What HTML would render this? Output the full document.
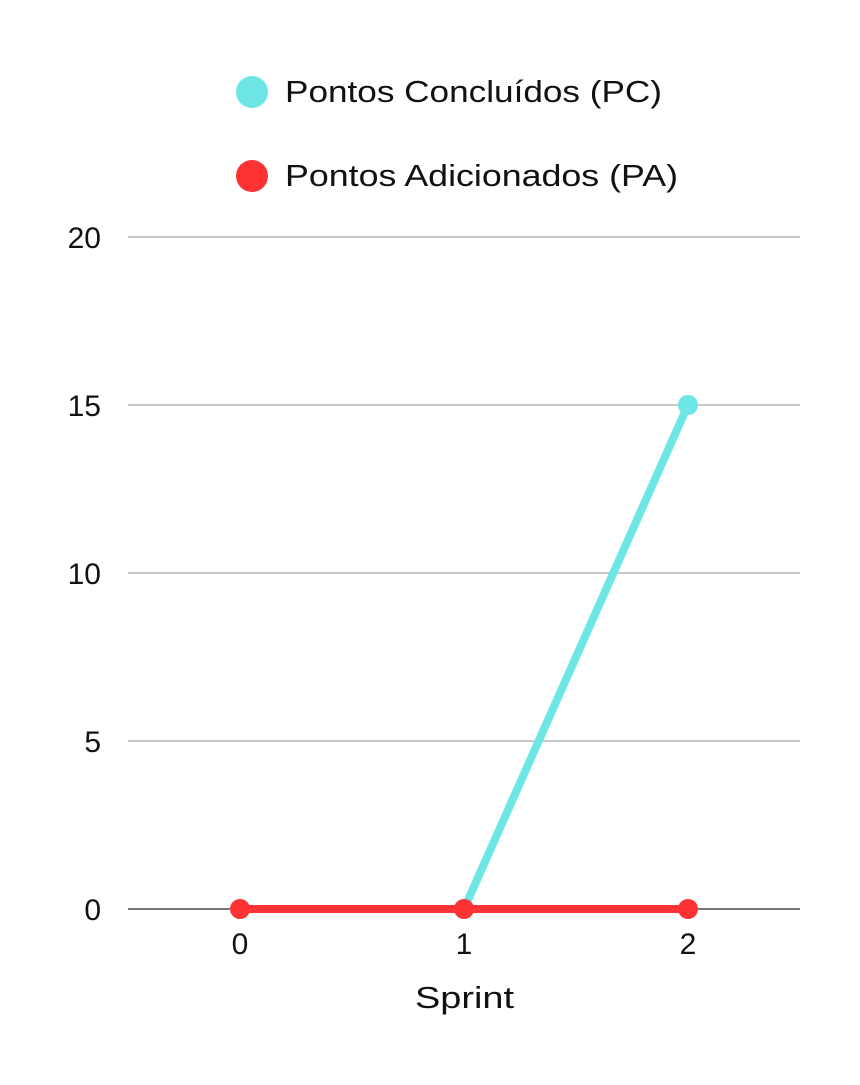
<!DOCTYPE html>
<html><head><meta charset="utf-8"><style>
body{margin:0;background:#fff;width:860px;height:1080px;overflow:hidden}
svg{font-family:"Liberation Sans",sans-serif}
</style></head><body>
<svg id="chart" width="860" height="1080">
<g id="legend">
<g><circle cx="252" cy="92" r="16" fill="#6ee6e6"/><text x="285" y="102" font-size="31" fill="#111" textLength="377" lengthAdjust="spacingAndGlyphs">Pontos Concluídos (PC)</text></g>
<g><circle cx="252" cy="176" r="16" fill="#ff3333"/><text x="285" y="186" font-size="31" fill="#111" textLength="393" lengthAdjust="spacingAndGlyphs">Pontos Adicionados (PA)</text></g>
</g>
<g id="grid"></g>
<g id="marks"></g>
<text x="415" y="1008" font-size="31" fill="#111" textLength="99" lengthAdjust="spacingAndGlyphs">Sprint</text>
</svg>
<script>
const categories=[0,1,2];
const pcValues=[0,0,15];
const paValues=[0,0,0];
const yTicks=[0,5,10,15,20];
const ns="http://www.w3.org/2000/svg";
const x=v=>240+v*224;
const y=v=>909-v*33.6;
function mk(t,a,p){const e=document.createElementNS(ns,t);for(const k in a)e.setAttribute(k,a[k]);p.appendChild(e);return e;}
const grid=document.getElementById('grid'),marks=document.getElementById('marks');
yTicks.forEach(t=>{
 const l=mk('line',{x1:128,x2:800,y1:y(t),y2:y(t),stroke:t===0?'#777':'#c8c8c8','stroke-width':2},grid);
 
 
 const tx=mk('text',{x:101,y:y(t)+11,'font-size':30,'text-anchor':'end',fill:'#111'},grid);tx.textContent=t;
 
 
});
categories.forEach(c=>{
 const tx=mk('text',{x:x(c),y:y(0)+45,'font-size':30,'text-anchor':'middle',fill:'#111'},grid);tx.textContent=c;
 
 
});
function series(vals,color,name){
 const pts=categories.map((c,i)=>x(c)+','+y(vals[i])).join(' ');
 const pl=mk('polyline',{points:pts,fill:'none',stroke:color,'stroke-width':8},marks);
 
 
 categories.forEach((c,i)=>{
  const p=mk('circle',{cx:x(c),cy:y(vals[i]),r:10,fill:color},marks);
  
  
 });
}
series(pcValues,'#6ee6e6','pc');
series(paValues,'#ff3333','pa');
</script>
</body></html>
